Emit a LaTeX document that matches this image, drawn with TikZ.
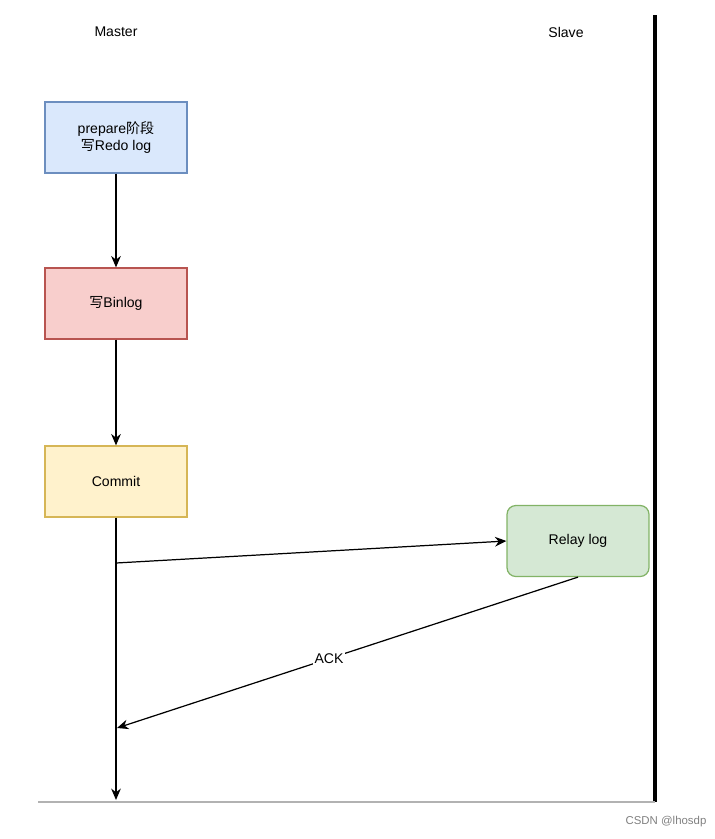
\documentclass[tikz,border=0pt]{standalone}
\usepackage{fontspec}
\setmainfont{Liberation Sans}
\newfontfamily\cjk{Noto Sans CJK SC}
\usetikzlibrary{arrows.meta}

\definecolor{blueFill}{HTML}{DAE8FC}
\definecolor{blueLine}{HTML}{6C8EBF}
\definecolor{redFill}{HTML}{F8CECC}
\definecolor{redLine}{HTML}{B85450}
\definecolor{yellowFill}{HTML}{FFF2CC}
\definecolor{yellowLine}{HTML}{D6B656}
\definecolor{greenFill}{HTML}{D5E8D4}
\definecolor{greenLine}{HTML}{82B366}

\tikzset{
  stagebox/.style={draw, line width=0.7pt, minimum width=2.84cm, minimum height=1.42cm,
    align=center, font=\fontsize{8}{10}\selectfont},
  msg/.style={line width=0.7pt, -{Stealth[length=6.5pt,width=5.5pt]}}
}

\begin{document}
\begin{tikzpicture}[x=0.02cm, y=-0.02cm]
    \useasboundingbox (0,0) rectangle (714,839);

    % заголовки
    \node (master) at (116,32) {\fontsize{8}{9}\selectfont Master};
    \node (slave) at (566,32) {\fontsize{8}{9}\selectfont Slave};

    % рамка
    \draw [line width=1.8pt] (655,15) -- (655,802);
    \draw [gray!60, line width=0.6pt] (38,802) -- (655,802);

    % блоки master
    \node [stagebox, fill=blueFill, draw=blueLine] (prepare) at (116,137.5) {prepare{\cjk 阶段}\\{\cjk 写}Redo log};
    \node [stagebox, fill=redFill, draw=redLine] (binlog) at (116,303.5) {{\cjk 写}Binlog};
    \node [stagebox, fill=yellowFill, draw=yellowLine] (commit) at (116,481.5) {Commit};

    % блок slave
    \node [stagebox, fill=greenFill, draw=greenLine, rounded corners=5pt] (relay) at (578,541) {Relay log};

    % стрелки
    \draw [msg] (prepare) -- (binlog);
    \draw [msg] (binlog) -- (commit);

    \coordinate (send) at (116,563);
    \coordinate (ack) at (117,728);
    \coordinate (bottom) at (116,800);
    \draw [msg] (commit) -- (bottom);
    \draw [msg] (send) -- (relay.west);
    \draw [msg] (relay.south) -- (ack)
        node [pos=0.54, fill=white, inner sep=1pt, font=\fontsize{8}{9}\selectfont] {ACK};

    % подпись
    \node [gray, font=\fontsize{6.5}{8}\selectfont] (csdn) at (666,822) {CSDN @lhosdp};
\end{tikzpicture}
\end{document}
